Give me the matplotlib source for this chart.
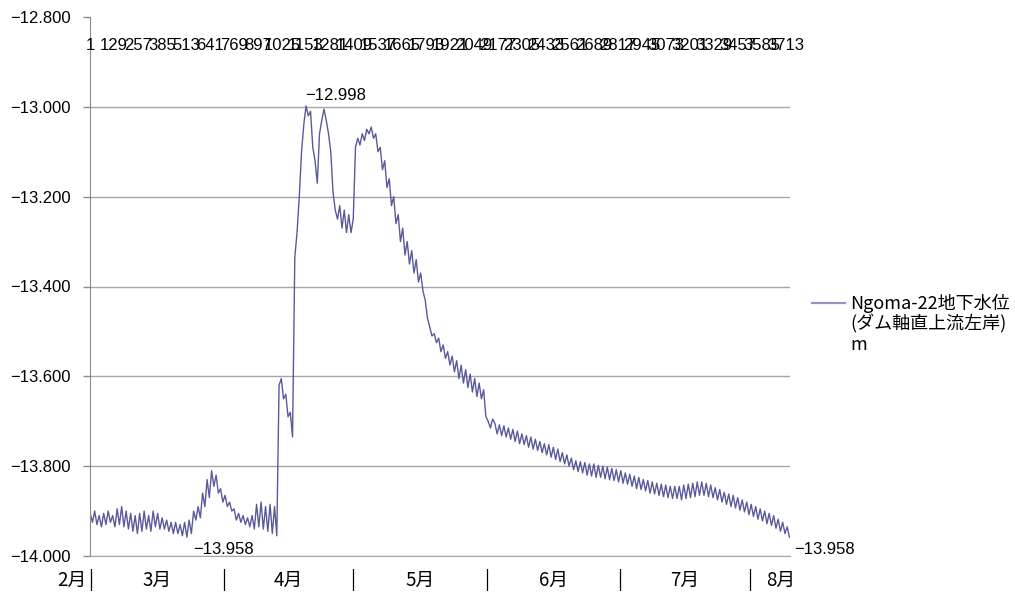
import numpy as np
import matplotlib
matplotlib.use("Agg")
import matplotlib.pyplot as plt
from matplotlib.lines import Line2D
from matplotlib.transforms import blended_transform_factory

# ---- data (one reading every 12 samples) ----
level_feb_apr = [
    -13.905, -13.925, -13.900, -13.930, -13.910, -13.935, -13.905, -13.930,
    -13.900, -13.925, -13.910, -13.935, -13.895, -13.930, -13.890, -13.935,
    -13.900, -13.940, -13.905, -13.945, -13.910, -13.950, -13.905, -13.945,
    -13.900, -13.940, -13.910, -13.945, -13.900, -13.935, -13.905, -13.940,
    -13.915, -13.940, -13.920, -13.945, -13.925, -13.950, -13.925, -13.950,
    -13.930, -13.955, -13.925, -13.958, -13.920, -13.950, -13.900, -13.920,
    -13.890, -13.915, -13.860, -13.890, -13.830, -13.870, -13.810, -13.845,
    -13.820, -13.860, -13.850, -13.880, -13.865, -13.890, -13.880, -13.900,
    -13.895, -13.920, -13.905, -13.925, -13.910, -13.930, -13.915, -13.935,
    -13.910, -13.940, -13.885, -13.935, -13.880, -13.940, -13.890, -13.945,
    -13.885, -13.950, -13.890, -13.955,
]
level_apr_jun = [
    -13.620, -13.605, -13.650, -13.640, -13.690, -13.680, -13.735, -13.335,
    -13.280, -13.200, -13.100, -13.040, -12.998, -13.020, -13.010, -13.090,
    -13.120, -13.170, -13.060, -13.030, -13.005, -13.030, -13.060, -13.100,
    -13.190, -13.230, -13.250, -13.220, -13.270, -13.230, -13.280, -13.240,
    -13.280, -13.250, -13.090, -13.070, -13.085, -13.060, -13.075, -13.050,
    -13.060, -13.045, -13.070, -13.060, -13.100, -13.090, -13.140, -13.120,
    -13.180, -13.160, -13.220, -13.200, -13.260, -13.240, -13.300, -13.270,
    -13.330, -13.300, -13.350, -13.320, -13.370, -13.340, -13.390, -13.370,
    -13.410, -13.430, -13.470, -13.490, -13.510, -13.505, -13.525, -13.515,
    -13.545, -13.530, -13.560, -13.545, -13.575, -13.555, -13.590, -13.565,
    -13.605, -13.575, -13.615, -13.585, -13.625, -13.595, -13.635, -13.605,
    -13.645, -13.615, -13.650, -13.630, -13.690, -13.700, -13.715, -13.695,
]
level_jun_aug = [
    -13.705, -13.728, -13.708, -13.732, -13.710, -13.735, -13.715, -13.740,
    -13.718, -13.745, -13.722, -13.750, -13.728, -13.752, -13.732, -13.758,
    -13.735, -13.762, -13.740, -13.765, -13.745, -13.770, -13.750, -13.775,
    -13.752, -13.780, -13.758, -13.785, -13.762, -13.790, -13.770, -13.795,
    -13.775, -13.800, -13.782, -13.808, -13.788, -13.812, -13.790, -13.815,
    -13.792, -13.820, -13.795, -13.822, -13.795, -13.825, -13.798, -13.825,
    -13.800, -13.828, -13.802, -13.830, -13.805, -13.832, -13.808, -13.835,
    -13.810, -13.838, -13.815, -13.840, -13.818, -13.845, -13.822, -13.850,
    -13.825, -13.852, -13.830, -13.855, -13.832, -13.860, -13.835, -13.862,
    -13.838, -13.865, -13.840, -13.868, -13.842, -13.870, -13.845, -13.872,
    -13.845, -13.872, -13.845, -13.875, -13.842, -13.872, -13.840, -13.870,
    -13.838, -13.868, -13.835, -13.865, -13.835, -13.865, -13.838, -13.868,
    -13.842, -13.870, -13.848, -13.875, -13.852, -13.880, -13.858, -13.885,
    -13.862, -13.890, -13.865, -13.893, -13.870, -13.898, -13.875, -13.902,
    -13.880, -13.908, -13.885, -13.912, -13.890, -13.918, -13.895, -13.922,
    -13.900, -13.928, -13.905, -13.932, -13.910, -13.938, -13.918, -13.945,
    -13.925, -13.950, -13.935, -13.958,
]
level = level_feb_apr + level_apr_jun + level_jun_aug
sample_step = 12

top_labels = ["1", "129", "257", "385", "513", "641", "769", "897", "1025",
              "1153", "1281", "1409", "1537", "1665", "1793", "1921", "2049",
              "2177", "2305", "2433", "2561", "2689", "2817", "2945", "3073",
              "3201", "3329", "3457", "3585", "3713"]

month_names = ["2月", "3月", "4月", "5月", "6月", "7月", "8月"]
month_bounds = [0, 712, 1403, 2118, 2826, 3522]

y_ticks = [-14.0, -13.8, -13.6, -13.4, -13.2, -13.0, -12.8]
series_name = "Ngoma-22地下水位\n(ダム軸直上流左岸)\nm"

# ---- figure ----
LINE = "#5a5a9a"
GRID = "#a6a6a6"
SPINE = "#8c8c8c"
NUM_FONT = ["Liberation Sans", "DejaVu Sans"]
JP_FONT = ["Noto Sans CJK JP", "DejaVu Sans"]

fig = plt.figure(figsize=(10.15, 5.98), dpi=100)
ax = fig.add_axes([90 / 1015, 1 - 556 / 598, 700 / 1015, 539 / 598])

x = np.arange(len(level)) * sample_step
line, = ax.plot(x, level, color=LINE, lw=1.0, label=series_name)

ax.set_xlim(-1, 3735)
ax.set_ylim(-14.0, -12.8)
ax.set_yticks(y_ticks)
ax.set_yticklabels([f"{v:.3f}".replace("-", "\u2212") for v in y_ticks],
                   fontfamily=NUM_FONT, fontsize=12)
ax.tick_params(axis="y", length=5, color=SPINE, width=1, pad=9)
ax.set_xticks([])

ax.grid(axis="y", color=GRID, lw=1)
ax.set_axisbelow(True)
for gl, v in zip(ax.get_ygridlines(), y_ticks):
    if v == -12.8:
        gl.set_visible(False)

for s in ["top", "right"]:
    ax.spines[s].set_visible(False)
ax.spines["left"].set_color(SPINE)
ax.spines["bottom"].set_color(GRID)

# top category labels (crowded, overlapping as in the reference)
tr = blended_transform_factory(ax.transData, ax.transAxes)
for lab in top_labels:
    ax.text(int(lab) - 1, 0.948, lab, transform=tr, ha="center", va="center",
            fontsize=12, fontfamily=NUM_FONT, clip_on=False)

# bottom month labels and separators
MFS = 13.5
for b in month_bounds:
    ax.text(b, -0.045, "|", transform=tr, ha="center", va="center",
            fontsize=MFS, fontfamily=JP_FONT, clip_on=False)
ax.text(month_bounds[0] - 22, -0.045, month_names[0], transform=tr,
        ha="right", va="center", fontsize=MFS, fontfamily=JP_FONT)
for i in range(len(month_bounds) - 1):
    mid = (month_bounds[i] + month_bounds[i + 1]) / 2
    ax.text(mid, -0.045, month_names[i + 1], transform=tr, ha="center",
            va="center", fontsize=MFS, fontfamily=JP_FONT)
ax.text(month_bounds[-1] + 85, -0.045, month_names[-1], transform=tr,
        ha="left", va="center", fontsize=MFS, fontfamily=JP_FONT)

# data labels: max, min, last
vals = np.array(level)
imax = int(np.argmax(vals))
imin = int(np.argmin(vals))
ilast = len(level) - 1
lab_kw = dict(textcoords="offset pixels", fontsize=12, fontfamily=NUM_FONT,
              annotation_clip=False)
ax.annotate(f"{vals[imax]:.3f}".replace("-", "\u2212"), (x[imax], vals[imax]),
            xytext=(-1, 3), ha="left", va="bottom", **lab_kw)
ax.annotate(f"{vals[imin]:.3f}".replace("-", "\u2212"), (x[imin], vals[imin]),
            xytext=(6, -12), ha="left", va="center", **lab_kw)
ax.annotate(f"{vals[ilast]:.3f}".replace("-", "\u2212"), (x[ilast], vals[ilast]),
            xytext=(5, -12), ha="left", va="center", **lab_kw)

# legend (swatch aligned with the first text line, as in the reference)
fig.add_artist(Line2D([812 / 1015, 845 / 1015], [1 - 303 / 598] * 2,
                      transform=fig.transFigure, color="#9494c0", lw=1.6))
for k, txt in enumerate(series_name.split("\n")):
    fig.text(850 / 1015, 1 - (303 + 21 * k) / 598, txt, ha="left",
             va="center", fontsize=13, fontfamily=JP_FONT)

fig.savefig("out.png", dpi=100)
